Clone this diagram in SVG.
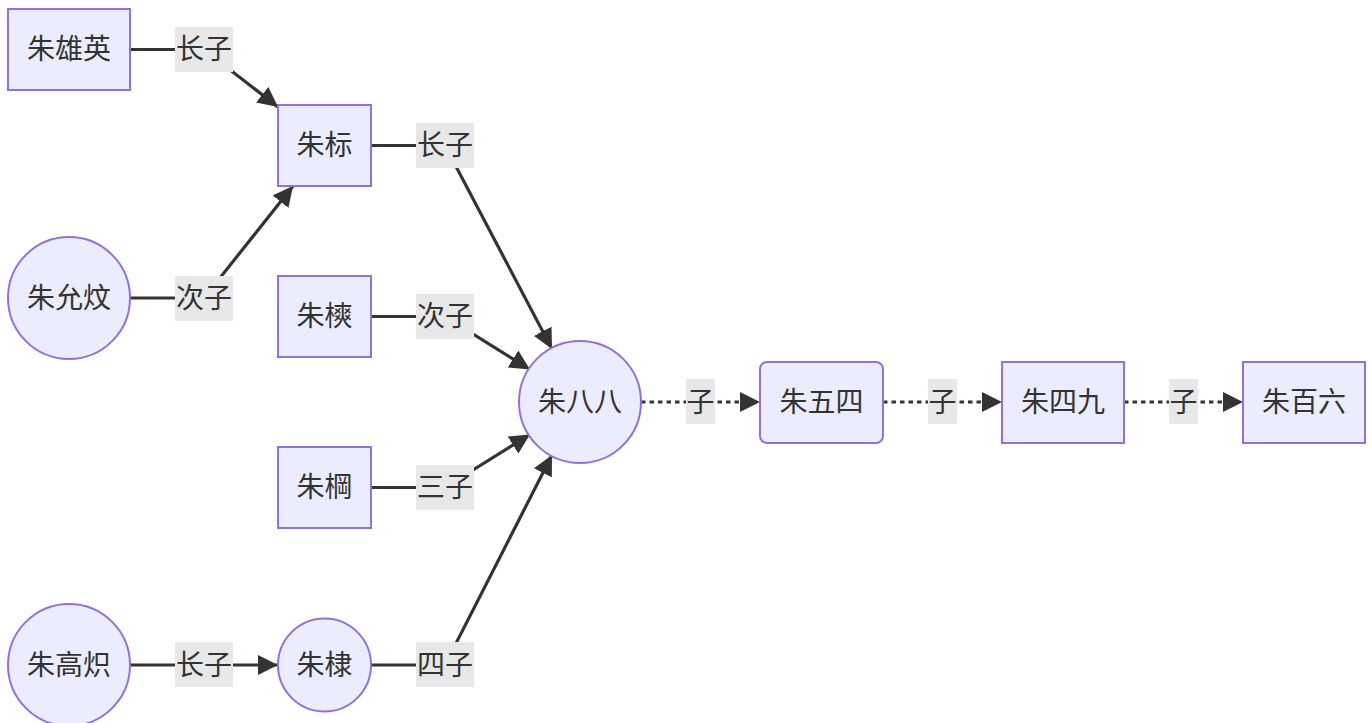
<svg xmlns="http://www.w3.org/2000/svg" width="1372" height="723" viewBox="0 0 1372 723">
<defs>
<style>
.node rect,.node circle{fill:#ECECFF;stroke:#9370DB;stroke-width:2;}
text{font-family:"Noto Sans CJK SC","Liberation Sans",sans-serif;font-size:28px;fill:#333;text-anchor:middle;dominant-baseline:central;}
.edge{fill:none;stroke:#333;stroke-width:3.2;}
.dot{stroke-dasharray:4.5 4;}
.lbl rect{fill:#e8e8e8;}
</style>
<marker id="arr" viewBox="0 0 10 10" refX="10" refY="5" markerWidth="20" markerHeight="20" markerUnits="userSpaceOnUse" orient="auto">
<path d="M0,0 L10,5 L0,10 z" fill="#333"/>
</marker>
</defs>
<rect width="1372" height="723" fill="#fff"/>
<g id="edges">
<path class="edge" d="M130,49.5 L204,49.5 L278,107" marker-end="url(#arr)"/>
<path class="edge" d="M130,298 L204,298 L293,186" marker-end="url(#arr)"/>
<path class="edge" d="M130,665 L278,665" marker-end="url(#arr)"/>
<path class="edge" d="M371,145.5 L445,145.5 L552,349" marker-end="url(#arr)"/>
<path class="edge" d="M371,316.5 L445,316.5 L530,369.5" marker-end="url(#arr)"/>
<path class="edge" d="M371,487.5 L445,487.5 L530,434.5" marker-end="url(#arr)"/>
<path class="edge" d="M371,665 L445,665 L552,455" marker-end="url(#arr)"/>
<path class="edge dot" d="M641,402 L760,402" marker-end="url(#arr)"/>
<path class="edge dot" d="M883,402 L1002,402" marker-end="url(#arr)"/>
<path class="edge dot" d="M1124,402 L1243,402" marker-end="url(#arr)"/>
</g>
<g id="edge-labels" class="lbl">
<rect x="175" y="27" width="58" height="45"/><text x="204" y="47">长子</text>
<rect x="175" y="276" width="58" height="45"/><text x="204" y="295.5">次子</text>
<rect x="175" y="642" width="58" height="45"/><text x="204" y="662.5">长子</text>
<rect x="416" y="123" width="58" height="45"/><text x="445" y="143">长子</text>
<rect x="416" y="294" width="58" height="45"/><text x="445" y="314">次子</text>
<rect x="416" y="465" width="58" height="45"/><text x="445" y="485">三子</text>
<rect x="416" y="642" width="58" height="45"/><text x="445" y="662.5">四子</text>
<rect x="686" y="379" width="29" height="45"/><text x="700.5" y="399.5">子</text>
<rect x="928" y="379" width="29" height="45"/><text x="942.5" y="399.5">子</text>
<rect x="1169" y="379" width="29" height="45"/><text x="1183.5" y="399.5">子</text>
</g>
<g id="n-xiongying" class="node"><rect x="8" y="9" width="122" height="81"/><text x="69" y="47">朱雄英</text></g>
<g id="n-yunwen" class="node"><circle cx="69" cy="298" r="61"/><text x="69" y="295.5">朱允炆</text></g>
<g id="n-gaochi" class="node"><circle cx="69" cy="665" r="61"/><text x="69" y="662.5">朱高炽</text></g>
<g id="n-biao" class="node"><rect x="278" y="105" width="93" height="81"/><text x="324.5" y="143">朱标</text></g>
<g id="n-shuang" class="node"><rect x="278" y="276" width="93" height="81"/><text x="324.5" y="314">朱樉</text></g>
<g id="n-gang" class="node"><rect x="278" y="447" width="93" height="81"/><text x="324.5" y="485">朱棡</text></g>
<g id="n-di" class="node"><circle cx="324.5" cy="665" r="46.5"/><text x="324.5" y="662.5">朱棣</text></g>
<g id="n-baba" class="node"><circle cx="580" cy="402" r="61"/><text x="580" y="399.5">朱八八</text></g>
<g id="n-wusi" class="node"><rect x="760" y="362" width="123" height="81" rx="7" ry="7"/><text x="821.5" y="399.5">朱五四</text></g>
<g id="n-sijiu" class="node"><rect x="1002" y="362" width="122" height="81"/><text x="1063" y="399.5">朱四九</text></g>
<g id="n-bailiu" class="node"><rect x="1243" y="362" width="122" height="81"/><text x="1304" y="399.5">朱百六</text></g>
</svg>
